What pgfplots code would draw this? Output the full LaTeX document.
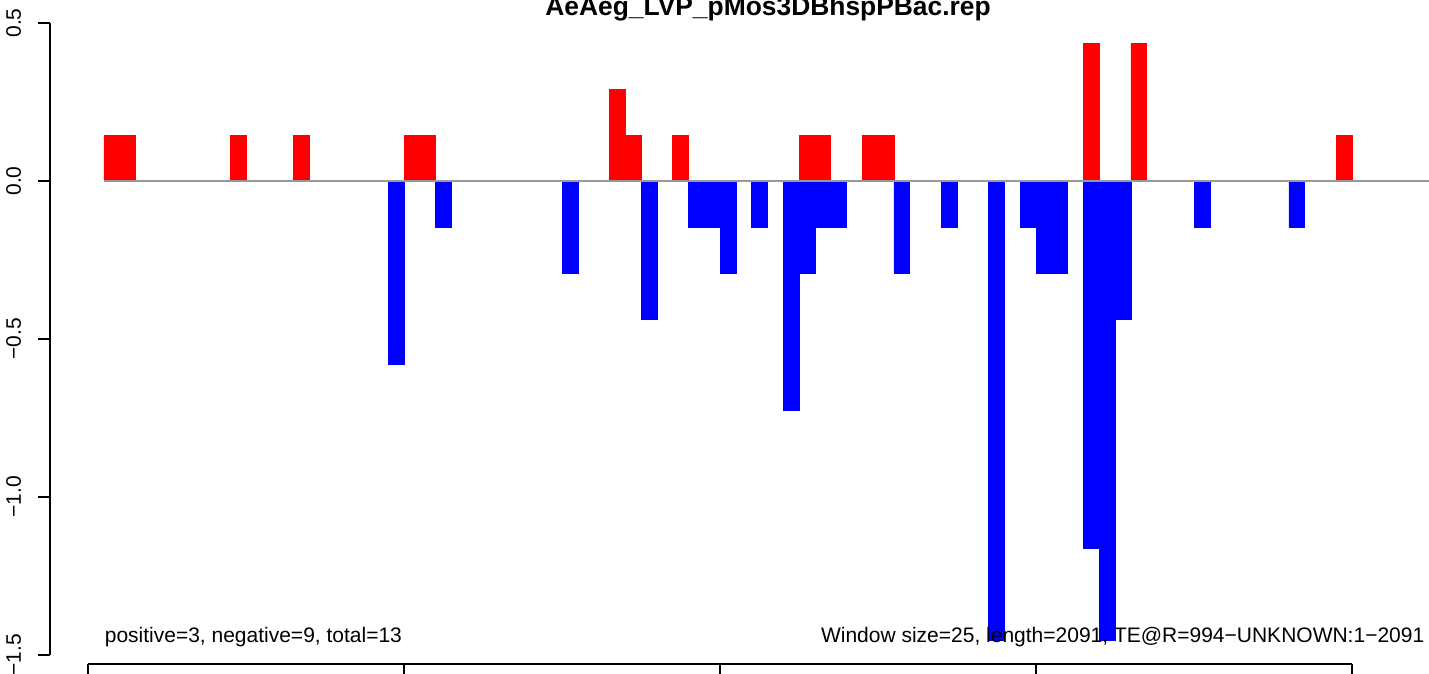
\documentclass[border=0pt]{standalone}
\usepackage{fontspec}
\setmainfont{Liberation Sans}
\usepackage{xcolor}
\usepackage{pgfplots}
\pgfplotsset{compat=1.18}

% window index i covers [25i, 25i+25]; x = centre of the window
\pgfplotstableread{
x      y
37.5   0.1453
62.5   0.1453
237.5  0.1453
337.5  0.1453
512.5  0.1453
537.5  0.1453
837.5  0.2906
862.5  0.1453
937.5  0.1453
1137.5 0.1453
1162.5 0.1453
1237.5 0.1453
1262.5 0.1453
1587.5 0.4359
1662.5 0.4359
1987.5 0.1453
}\pos
\pgfplotstableread{
x      y
487.5  -0.5812
562.5  -0.1453
762.5  -0.2906
887.5  -0.4359
962.5  -0.1453
987.5  -0.1453
1012.5 -0.2906
1062.5 -0.1453
1112.5 -0.7265
1137.5 -0.2906
1162.5 -0.1453
1187.5 -0.1453
1287.5 -0.2906
1362.5 -0.1453
1437.5 -1.4530
1487.5 -0.1453
1512.5 -0.2906
1537.5 -0.2906
1587.5 -1.1624
1612.5 -1.4530
1637.5 -0.4359
1762.5 -0.1453
1912.5 -0.1453
}\neg

\begin{document}
\begin{tikzpicture}
\begin{axis}[
  scale only axis,
  width=689.5pt, height=322.5pt,
  xmin=-60.13, xmax=2121.8,
  ymin=-1.529, ymax=0.512,
  axis x line*=bottom, axis y line*=left,
  axis line style={draw=none},
  clip mode=individual,
  xtick={0,500,1000,1500,2000}, xticklabels={},
  ytick={-1.5,-1,-0.5,0,0.5},
  yticklabels={−1.5,−1.0,−0.5,0.0,0.5},
  tick align=outside, major tick length=6pt,
  tick style={black, line width=0.9pt},
  yticklabel style={rotate=90, anchor=base, yshift=8.5pt,
                    font=\fontsize{10.5}{12}\selectfont},
  ybar, bar width=25, bar shift=0pt,
]
  \addplot[fill=red, draw=red, line width=0.2pt] table[x=x, y=y] {\pos};
  \addplot[fill=blue, draw=blue, line width=0.2pt] table[x=x, y=y] {\neg};
  \addplot[sharp plot, black!40, line width=0.7pt] coordinates {(25,0) (2200,0)};

  \draw[line width=0.9pt] (axis cs:-60.13,-1.5) -- (axis cs:-60.13,0.5);
  \draw[line width=0.9pt] (axis cs:0,-1.529) -- (axis cs:2000,-1.529);

  \node[anchor=base, font=\fontsize{13.2}{15}\selectfont\bfseries]
    at (axis cs:1076,0.525) {AeAeg\_LVP\_pMos3DBhspPBac.rep};
  \node[anchor=base west, inner sep=0pt, font=\fontsize{10.5}{12}\selectfont]
    at (axis cs:26,-1.459) {positive=3, negative=9, total=13};
  \node[anchor=base east, inner sep=0pt, font=\fontsize{10.5}{12}\selectfont]
    at (axis cs:2115,-1.459) {Window size=25, length=2091, TE@R=994−UNKNOWN:1−2091};

  \coordinate (bl) at (axis cs:-139.24,-1.557);
  \coordinate (tr) at (axis cs:2121.8,0.5728);
\end{axis}
\pgfresetboundingbox
\useasboundingbox (bl) rectangle (tr);
\end{tikzpicture}
\end{document}
